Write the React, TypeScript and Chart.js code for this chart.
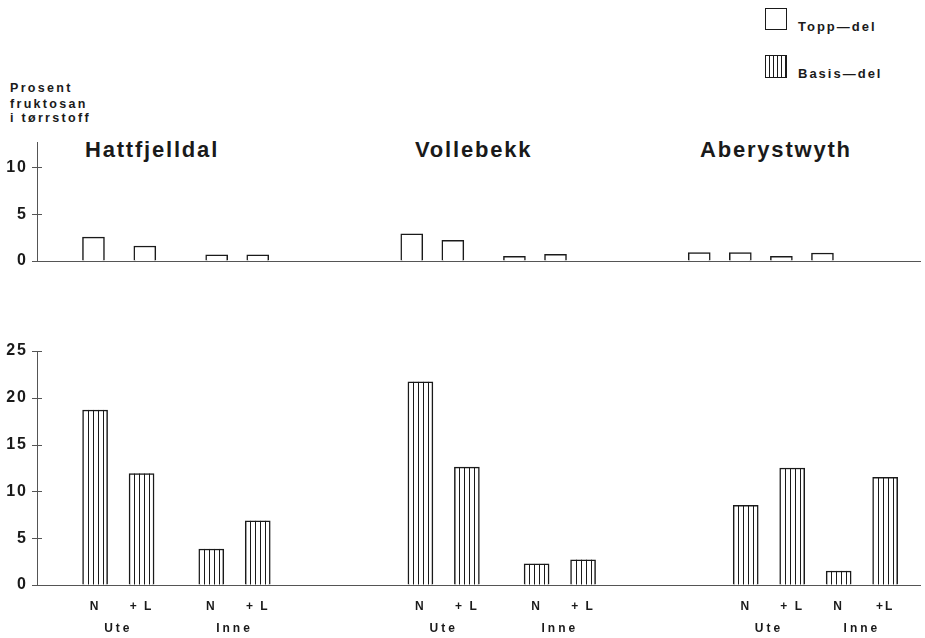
import React, { useEffect, useRef } from "react";
import { Chart, registerables } from "chart.js";
Chart.register(...registerables);

// ---- data ----
const LOCATIONS = ["Hattfjelldal", "Vollebekk", "Aberystwyth"];
const BAR_LABELS = ["N", "+ L", "N", "+ L", "N", "+ L", "N", "+ L", "N", "+ L", "N", "+L"];
const GROUP_LABELS = ["Ute", "Inne"];
const TOPP_DEL = [2.55, 1.6, 0.65, 0.65, 2.9, 2.2, 0.5, 0.7, 0.9, 0.9, 0.5, 0.85];
const BASIS_DEL = [18.7, 11.9, 3.85, 6.85, 21.7, 12.6, 2.25, 2.7, 8.5, 12.5, 1.5, 11.5];
const TOP_TICKS = [0, 5, 10];
const BOTTOM_TICKS = [0, 5, 10, 15, 20, 25];
const Y_TITLE = ["Prosent", "fruktosan", "i tørrstoff"];
const LEGEND = ["Topp—del", "Basis—del"];

// ---- layout (slot grid of category axes, not data) ----
const TOP_SLOT_COUNT = 86;
const TOP_SLOTS = [5, 10, 17, 21, 36, 40, 46, 50, 64, 68, 72, 76];
const BOTTOM_SLOT_COUNT = 38;
const BOTTOM_SLOTS = [2, 4, 7, 9, 16, 18, 21, 23, 30, 32, 34, 36];
const TOP_AXIS_MAX = 12.7;
const BOTTOM_AXIS_MAX = 25;

const FONT = "'Liberation Sans', Arial, Helvetica, sans-serif";
const INK = "#1a1a1a";
const AXIS = "#555";

function spread(count: number, slots: number[], values: (number | string)[], fill: any) {
  const arr: any[] = new Array(count).fill(fill);
  slots.forEach((s, i) => (arr[s] = values[i]));
  return arr;
}

const letterSpacing = (px: string) => ({
  id: "ls" + px,
  beforeDraw(chart: any) {
    chart.ctx.letterSpacing = px;
  },
});

// tick marks that cross the y axis line
const crossTicks = {
  id: "crossTicks",
  afterDraw(chart: any) {
    const ctx = chart.ctx;
    const ys = chart.scales.y;
    const left = chart.chartArea.left;
    ctx.save();
    ctx.strokeStyle = AXIS;
    ctx.lineWidth = 1;
    ys.ticks.forEach((t: any) => {
      const py = Math.round(ys.getPixelForValue(t.value)) + 0.5;
      ctx.beginPath();
      ctx.moveTo(left - 5, py);
      ctx.lineTo(left + 5, py);
      ctx.stroke();
    });
    ctx.restore();
  },
};

const hatch = {
  id: "hatch",
  afterDatasetsDraw(chart: any) {
    const ctx = chart.ctx;
    const meta = chart.getDatasetMeta(0);
    const data = chart.data.datasets[0].data;
    ctx.save();
    ctx.strokeStyle = INK;
    ctx.lineWidth = 1;
    meta.data.forEach((el: any, i: number) => {
      if (data[i] == null) return;
      const { x, y, base, width } = el.getProps(["x", "y", "base", "width"], true);
      const left = x - width / 2;
      for (let k = 1; k < 5; k++) {
        const lx = Math.round(left + (width * k) / 5) + 0.5;
        ctx.beginPath();
        ctx.moveTo(lx, y);
        ctx.lineTo(lx, base);
        ctx.stroke();
      }
    });
    ctx.restore();
  },
};

const groupLabels = {
  id: "groupLabels",
  afterDraw(chart: any) {
    const ctx = chart.ctx;
    const xs = chart.scales.x;
    ctx.save();
    ctx.letterSpacing = "3px";
    ctx.font = `bold 12px ${FONT}`;
    ctx.fillStyle = INK;
    ctx.textAlign = "center";
    ctx.textBaseline = "middle";
    LOCATIONS.forEach((_, g) => {
      GROUP_LABELS.forEach((lab, gi) => {
        const i = g * 4 + gi * 2;
        const x = (xs.getPixelForValue(BOTTOM_SLOTS[i]) + xs.getPixelForValue(BOTTOM_SLOTS[i + 1])) / 2;
        ctx.fillText(lab, x, chart.chartArea.bottom + 43.5);
      });
    });
    ctx.restore();
  },
};

function yScale(max: number, ticks: number[]) {
  return {
    min: 0,
    max,
    afterBuildTicks: (s: any) => {
      s.ticks = ticks.map((v) => ({ value: v }));
    },
    afterFit: (s: any) => {
      s.width = 37;
      s.paddingTop = 0;
      s.paddingBottom = 0;
    },
    ticks: { font: { family: FONT, size: 16, weight: "bold" }, color: INK, padding: 9 },
    grid: { drawOnChartArea: false, drawTicks: false, color: AXIS },
    border: { display: true, color: AXIS, width: 1 },
  };
}

export default function App() {
  const topRef = useRef<HTMLCanvasElement>(null);
  const botRef = useRef<HTMLCanvasElement>(null);

  useEffect(() => {
    const top = new Chart(topRef.current!, {
      type: "bar",
      data: {
        labels: spread(TOP_SLOT_COUNT, [], [], ""),
        datasets: [
          {
            label: "Topp-del",
            data: spread(TOP_SLOT_COUNT, TOP_SLOTS, TOPP_DEL, null),
            backgroundColor: "#ffffff",
            borderColor: INK,
            borderWidth: 1.5,
            barThickness: 22,
          },
        ],
      },
      options: {
        responsive: false,
        animation: false,
        layout: { padding: { top: 12, bottom: 9, left: 0, right: 5 } },
        plugins: { legend: { display: false }, tooltip: { enabled: false } },
        scales: {
          x: {
            type: "category",
            ticks: { display: false },
            grid: { drawOnChartArea: false, drawTicks: false, color: AXIS },
            border: { display: true, color: AXIS, width: 1 },
            afterFit: (s: any) => {
              s.height = 0;
              s.paddingLeft = 0;
              s.paddingRight = 0;
            },
          },
          y: yScale(TOP_AXIS_MAX, TOP_TICKS) as any,
        },
      },
      plugins: [letterSpacing("2px"), crossTicks],
    });

    const bot = new Chart(botRef.current!, {
      type: "bar",
      data: {
        labels: spread(BOTTOM_SLOT_COUNT, BOTTOM_SLOTS, BAR_LABELS, ""),
        datasets: [
          {
            label: "Basis-del",
            data: spread(BOTTOM_SLOT_COUNT, BOTTOM_SLOTS, BASIS_DEL, null),
            backgroundColor: "#ffffff",
            borderColor: INK,
            borderWidth: 1.5,
            barThickness: 25,
          },
        ],
      },
      options: {
        responsive: false,
        animation: false,
        layout: { padding: { top: 11, bottom: 0, left: 0, right: 5 } },
        plugins: { legend: { display: false }, tooltip: { enabled: false } },
        scales: {
          x: {
            type: "category",
            ticks: {
              autoSkip: false,
              maxRotation: 0,
              minRotation: 0,
              padding: 14.5,
              font: { family: FONT, size: 12, weight: "bold" },
              color: INK,
            },
            grid: { drawOnChartArea: false, drawTicks: false, color: AXIS },
            border: { display: true, color: AXIS, width: 1 },
            afterFit: (s: any) => {
              s.height = 53;
              s.paddingLeft = 0;
              s.paddingRight = 0;
            },
          },
          y: yScale(BOTTOM_AXIS_MAX, BOTTOM_TICKS) as any,
        },
      },
      plugins: [letterSpacing("2px"), crossTicks, hatch, groupLabels],
    });

    return () => {
      top.destroy();
      bot.destroy();
    };
  }, []);

  const titleLeft = [85, 415, 700];
  const yTitleTop = [82, 98, 112];

  return (
    <div
      style={{
        position: "absolute",
        left: 0,
        top: 0,
        width: 925,
        height: 638,
        overflow: "hidden",
        background: "#fff",
        fontFamily: FONT,
        color: INK,
      }}
    >
      {/* legend */}
      <div
        style={{
          position: "absolute",
          left: 765,
          top: 8,
          width: 22,
          height: 22,
          boxSizing: "border-box",
          border: `1.5px solid ${INK}`,
          background: "#fff",
        }}
      />
      <div
        style={{
          position: "absolute",
          left: 798,
          top: 20,
          fontSize: 13,
          lineHeight: "13px",
          fontWeight: "bold",
          letterSpacing: "2px",
          whiteSpace: "nowrap",
        }}
      >
        {LEGEND[0]}
      </div>
      <div
        style={{
          position: "absolute",
          left: 765,
          top: 55,
          width: 22,
          height: 23,
          boxSizing: "border-box",
          border: `1.5px solid ${INK}`,
          background: `repeating-linear-gradient(to right, #fff 0px, #fff 3px, ${INK} 3px, ${INK} 4px)`,
        }}
      />
      <div
        style={{
          position: "absolute",
          left: 798,
          top: 67,
          fontSize: 13,
          lineHeight: "13px",
          fontWeight: "bold",
          letterSpacing: "2px",
          whiteSpace: "nowrap",
        }}
      >
        {LEGEND[1]}
      </div>

      {/* y title */}
      {Y_TITLE.map((t, i) => (
        <div
          key={t}
          style={{
            position: "absolute",
            left: 10,
            top: yTitleTop[i],
            fontSize: 12.5,
            lineHeight: "12px",
            fontWeight: "bold",
            letterSpacing: "2.3px",
            whiteSpace: "nowrap",
          }}
        >
          {t}
        </div>
      ))}

      {/* panel titles */}
      {LOCATIONS.map((t, i) => (
        <div
          key={t}
          style={{
            position: "absolute",
            left: titleLeft[i],
            top: 139,
            fontSize: 22,
            lineHeight: "22px",
            fontWeight: "bold",
            letterSpacing: "1.8px",
            whiteSpace: "nowrap",
          }}
        >
          {t}
        </div>
      ))}

      <canvas
        ref={topRef}
        width={925}
        height={140}
        style={{ position: "absolute", left: 0, top: 130, width: 925, height: 140 }}
      />
      <canvas
        ref={botRef}
        width={925}
        height={298}
        style={{ position: "absolute", left: 0, top: 340, width: 925, height: 298 }}
      />
    </div>
  );
}
